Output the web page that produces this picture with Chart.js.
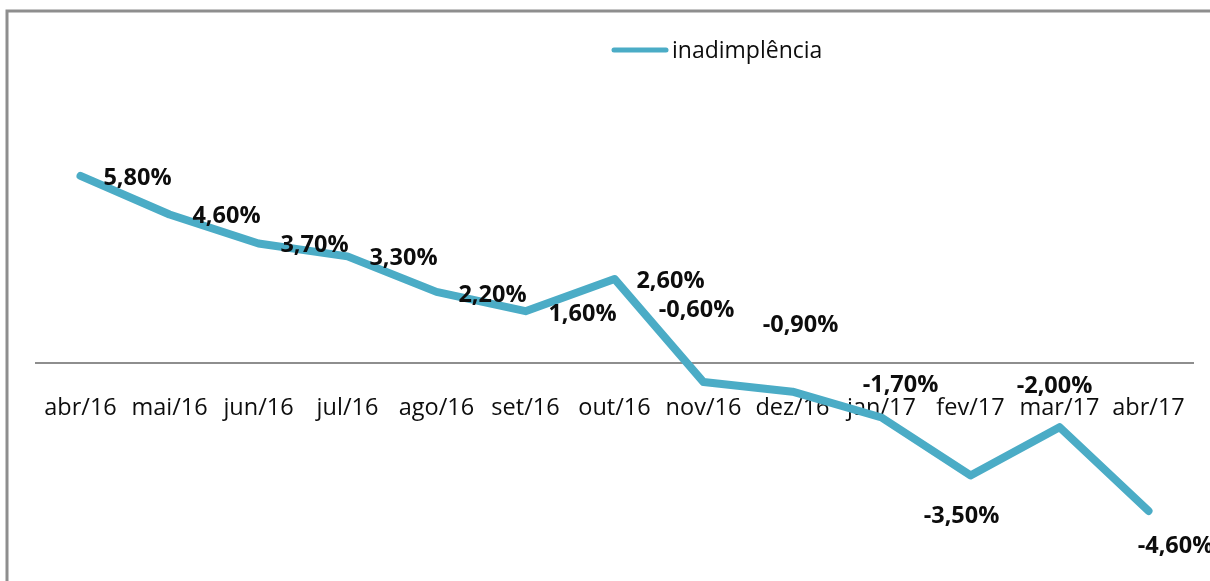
<!DOCTYPE html>
<html>
<head>
<meta charset="utf-8">
<script src="https://cdn.jsdelivr.net/npm/chart.js@4/dist/chart.umd.min.js"></script>
<style>
  html, body { margin: 0; padding: 0; background: #fff; }
  #wrap { width: 1210px; height: 581px; }
</style>
</head>
<body>
<div id="wrap"><canvas id="grafico"></canvas></div>
<script>
// dados
var meses = ["abr/16", "mai/16", "jun/16", "jul/16", "ago/16", "set/16", "out/16",
  "nov/16", "dez/16", "jan/17", "fev/17", "mar/17", "abr/17"];
var inadimplencia = [5.8, 4.6, 3.7, 3.3, 2.2, 1.6, 2.6, -0.6, -0.9, -1.7, -3.5, -2.0, -4.6];
var rotulos = ["5,80%", "4,60%", "3,70%", "3,30%", "2,20%", "1,60%", "2,60%",
  "-0,60%", "-0,90%", "-1,70%", "-3,50%", "-2,00%", "-4,60%"];

// deslocamento de cada rótulo em relação ao ponto (px)
var deslocX = [57, 57, 56, 56, 56, 57, 56, -7, 8, 19, -9, -5, 27];
var deslocY = [2, 2, 2, 2, 3, 3, 2, -72, -66, -32, 41, -41, 35];

var corLinha = "#4BACC6";
var fonte = "'Open Sans', sans-serif";

// moldura, legenda e rótulos dos pontos
var extras = {
  id: "extras",
  beforeDraw: function (chart) {
    var ctx = chart.ctx;
    ctx.save();
    ctx.strokeStyle = "#8e8e8e";
    ctx.lineWidth = 3;
    ctx.strokeRect(7, 11, 1300, 700);
    ctx.restore();
  },
  afterDatasetsDraw: function (chart) {
    var ctx = chart.ctx;
    var pontos = chart.getDatasetMeta(0).data;
    ctx.save();
    ctx.font = "bold 23.5px " + fonte;
    ctx.fillStyle = "#0d0d0d";
    ctx.textAlign = "center";
    ctx.textBaseline = "middle";
    pontos.forEach(function (p, i) {
      ctx.fillText(rotulos[i], p.x + deslocX[i], p.y + deslocY[i]);
    });

    // legenda
    ctx.strokeStyle = corLinha;
    ctx.lineWidth = 5;
    ctx.lineCap = "round";
    ctx.beginPath();
    ctx.moveTo(614, 50);
    ctx.lineTo(666, 50);
    ctx.stroke();
    ctx.font = "23px " + fonte;
    ctx.textAlign = "left";
    ctx.fillStyle = "#0d0d0d";
    ctx.fillText(chart.data.datasets[0].label, 672, 51);
    ctx.restore();
  }
};

var ctx = document.getElementById("grafico").getContext("2d");
new Chart(ctx, {
  type: "line",
  data: {
    labels: meses,
    datasets: [
      {
        label: "inadimplência",
        data: inadimplencia,
        borderColor: corLinha,
        borderWidth: 8,
        borderJoinStyle: "round",
        borderCapStyle: "round",
        pointRadius: 0,
        tension: 0,
        fill: false
      }
    ]
  },
  options: {
    responsive: true,
    maintainAspectRatio: false,
    animation: false,
    layout: { padding: { left: 36, right: 17, top: 105, bottom: 25 } },
    plugins: {
      legend: { display: false },
      tooltip: { enabled: false }
    },
    scales: {
      x: {
        position: { y: 0 },
        offset: true,
        grid: { display: false, drawTicks: false },
        border: { display: true, color: "#8e8e8e", width: 2 },
        ticks: {
          padding: 31,
          maxRotation: 0,
          autoSkip: false,
          color: "#0d0d0d",
          font: { family: fonte, size: 23.5 }
        },
        afterFit: function (escala) {
          escala.paddingLeft = 0;
          escala.paddingRight = 0;
        }
      },
      y: {
        display: false,
        min: -6,
        max: 8
      }
    }
  },
  plugins: [extras]
});
</script>
</body>
</html>
